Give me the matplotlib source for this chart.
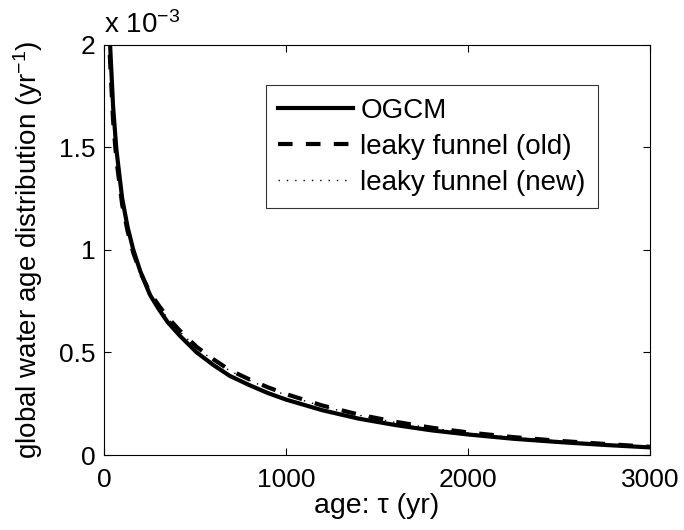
import matplotlib
matplotlib.use("Agg")
import matplotlib.pyplot as plt

plt.rcParams['font.family'] = ['Liberation Sans', 'DejaVu Sans']
plt.rcParams['mathtext.fontset'] = 'custom'
plt.rcParams['mathtext.rm'] = 'Liberation Sans'
plt.rcParams['mathtext.default'] = 'regular'

# age (yr) and age distribution (units of 1e-3 per yr)
tau = [20, 33, 50, 68, 100, 130, 161, 200, 253, 300, 350, 418, 509, 600,
       692, 800, 900, 1000, 1200, 1400, 1600, 1800, 2000, 2250, 2500, 2750,
       3000]
ogcm = [2.46, 2.01, 1.70, 1.49, 1.25, 1.11, 1.0, 0.894, 0.78, 0.712, 0.647,
        0.58, 0.50, 0.439, 0.385, 0.340, 0.302, 0.27, 0.218, 0.177, 0.146,
        0.120, 0.10, 0.079, 0.063, 0.049, 0.037]
funnel_old = [2.35, 1.93, 1.63, 1.44, 1.22, 1.09, 0.985, 0.89, 0.79, 0.73,
              0.67, 0.605, 0.527, 0.467, 0.413, 0.368, 0.33, 0.297, 0.241,
              0.197, 0.162, 0.133, 0.11, 0.087, 0.069, 0.054, 0.040]
funnel_new = [2.45, 1.99, 1.68, 1.47, 1.24, 1.10, 0.995, 0.893, 0.79, 0.727,
              0.665, 0.60, 0.522, 0.462, 0.41, 0.363, 0.325, 0.292, 0.237,
              0.194, 0.159, 0.131, 0.108, 0.085, 0.068, 0.053, 0.039]

fs_tick = 19
fs_lab = 20.5
fs_leg = 20

fig = plt.figure(figsize=(6.84, 5.30), dpi=100)
ax = fig.add_axes([0.152, 0.1415, 0.7985, 0.7745])

ax.plot(tau, ogcm, color='k', lw=3.0, label='OGCM')
ax.plot(tau, funnel_old, color='k', lw=3.0, dashes=(3.5, 3.2),
        label='leaky funnel (old)')
ax.plot(tau, funnel_new, color='k', lw=1.0, dashes=(1.0, 5.0),
        label='leaky funnel (new)')

ax.set_xlim(0, 3000)
ax.set_ylim(0, 2)
ax.set_xticks([0, 1000, 2000, 3000])
ax.set_yticks([0, 0.5, 1, 1.5, 2])
ax.set_yticklabels(['0', '0.5', '1', '1.5', '2'])
ax.tick_params(direction='in', length=5, width=0.8, labelsize=fs_tick,
               top=True, right=True)
ax.tick_params(axis='x', pad=9)
ax.tick_params(axis='y', pad=6)
for s in ax.spines.values():
    s.set_linewidth(0.8)

ax.set_xlabel('age: τ (yr)', fontsize=fs_lab, labelpad=1)
ax.set_ylabel('global water age distribution (yr$^{-1}$)', fontsize=20,
              labelpad=10)
fig.text(104 / 684, 1 - 33 / 530, 'x 10$^{-3}$', fontsize=fs_leg,
         ha='left', va='baseline')

leg = ax.legend(loc='upper right', bbox_to_anchor=(0.9048, 0.9013),
                fontsize=fs_leg, frameon=True, fancybox=False, borderpad=0.45,
                handlelength=2.7, handletextpad=0.25, labelspacing=0.36,
                borderaxespad=0.0)
leg.get_frame().set_edgecolor('k')
leg.get_frame().set_linewidth(0.8)

fig.savefig('out.png', dpi=100)
